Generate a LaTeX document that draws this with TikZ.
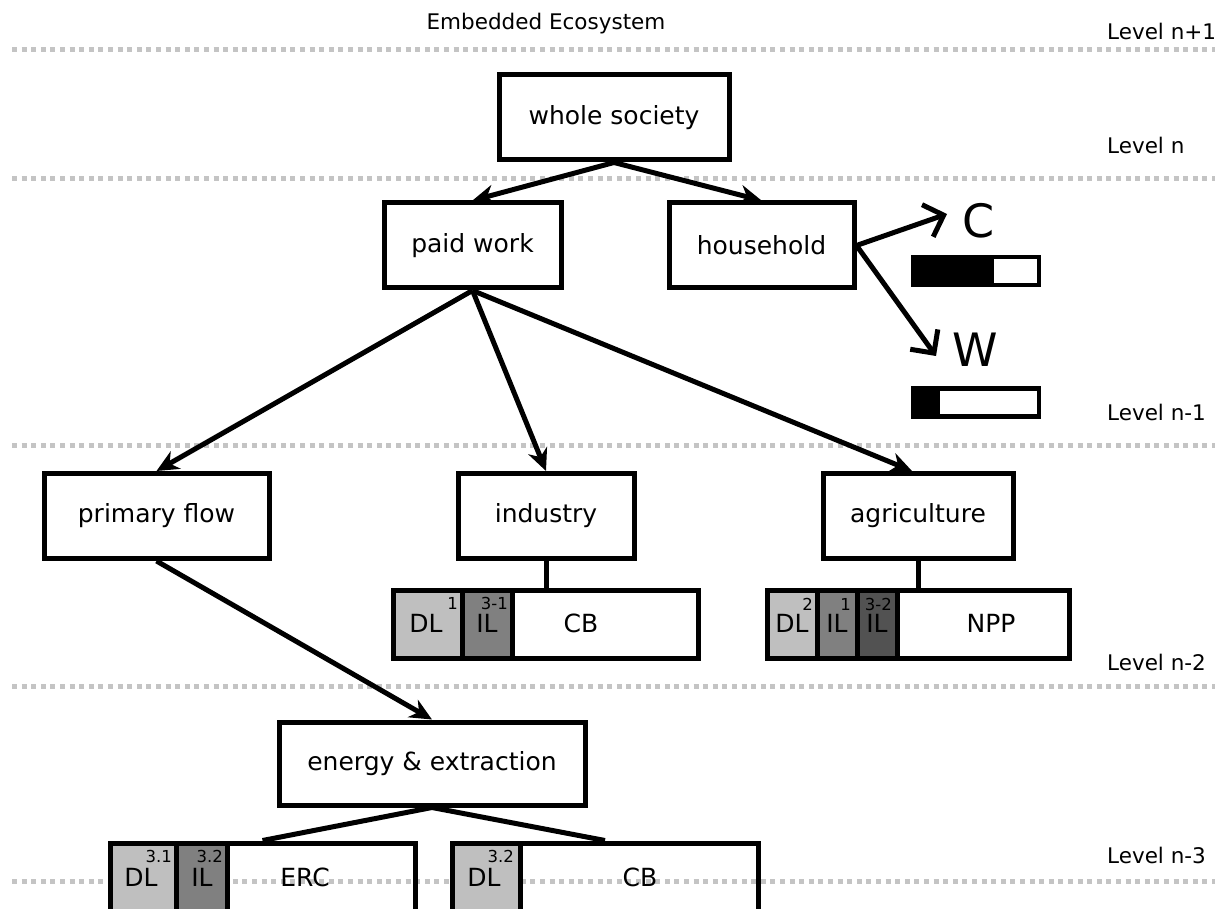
\documentclass[tikz,border=0pt]{standalone}
\usepackage{fontspec}
\setmainfont{DejaVu Sans}
\usetikzlibrary{arrows.meta}
\definecolor{dotgray}{HTML}{C4C4C4}
\definecolor{lightfill}{HTML}{BFBFBF}
\definecolor{midfill}{HTML}{808080}
\definecolor{darkfill}{HTML}{525252}

\begin{document}
\begin{tikzpicture}[x=1pt,y=-1pt,
  box/.style={draw,line width=5pt,inner sep=0pt,minimum height=85pt,font=\fontsize{25}{30}\selectfont},
  bar/.style={draw,line width=5pt,inner sep=0pt,minimum height=68pt,minimum width=305pt},
  cell/.style={line width=5pt,draw},
  gauge/.style={draw,line width=4.5pt,inner sep=0pt,minimum width=126pt,minimum height=28pt},
  lvl/.style={font=\fontsize{21.5}{26}\selectfont,anchor=west,inner sep=0pt},
  sep/.style={dotgray,line width=5pt,dash pattern=on 5pt off 4.6pt},
  arr/.style={line width=5pt,-{Stealth[length=22pt,width=20pt,inset=7pt]}},
  barb/.style={line width=5pt,-{Straight Barb[length=17pt,width=34pt]}},
  link/.style={line width=5pt},
  lbl/.style={font=\fontsize{25}{30}\selectfont,inner sep=0pt},
  sup/.style={font=\fontsize{16.5}{20}\selectfont,inner sep=0pt,anchor=north east},
  big/.style={font=\fontsize{46}{50}\selectfont,inner sep=0pt},
]
\useasboundingbox (0,0) rectangle (1223,909);
\clip (0,0) rectangle (1223,909);

% level separators
\foreach \y in {50,179,445,686,881} \draw[sep] (12,\y) -- (1215,\y);

% titles
\node[font=\fontsize{21.5}{26}\selectfont,inner sep=0pt] (eco) at (546,24) {Embedded Ecosystem};
\node[lvl] (l1) at (1107,31) {Level n+1};
\node[lvl] (l2) at (1107,145) {Level n};
\node[lvl] (l3) at (1107,412) {Level n-1};
\node[lvl] (l4) at (1107,662) {Level n-2};
\node[lvl] (l5) at (1107,855) {Level n-3};

% boxes
\node[box,minimum width=230pt] (ws) at (614,117.5) {whole society};
\node[box,minimum width=177pt] (pw) at (472.5,245.5) {paid work};
\node[box,minimum width=185pt] (hh) at (761.5,245.5) {household};
\node[box,minimum width=225pt] (pf) at (156.5,516) {primary flow};
\node[box,minimum width=176pt] (ind) at (546,516) {industry};
\node[box,minimum width=190pt] (agr) at (918,516) {agriculture};
\node[box,minimum width=306pt,minimum height=83pt] (ene) at (432,763.5) {energy \& extraction};

% industry bar
\filldraw[cell,fill=lightfill] (393.5,590) rectangle (462,658);
\filldraw[cell,fill=midfill] (462,590) rectangle (512,658);
\node[bar] (indbar) at (546,624) {};
\node[lbl] (indDL) at (426,623) {DL};
\node[lbl] (indIL) at (487,623) {IL};
\node[lbl] (indCB) at (581,623) {CB};
\node[sup] (indS1) at (458,597) {1};
\node[sup] (indS2) at (508,597) {3-1};

% agriculture bar
\filldraw[cell,fill=lightfill] (767,590) rectangle (817,658);
\filldraw[cell,fill=midfill] (817,590) rectangle (857,658);
\filldraw[cell,fill=darkfill] (857,590) rectangle (897,658);
\node[bar,minimum width=302pt] (agrbar) at (918,624) {};
\node[lbl] (agrDL) at (792,623) {DL};
\node[lbl] (agrIL1) at (837,623) {IL};
\node[lbl] (agrIL2) at (877,623) {IL};
\node[lbl] (agrNPP) at (991,623) {NPP};
\node[sup] (agrS1) at (813,598) {2};
\node[sup] (agrS2) at (851,598) {1};
\node[sup] (agrS3) at (892,598) {3-2};

% energy bars
\filldraw[cell,fill=lightfill] (110,843) rectangle (176,911);
\filldraw[cell,fill=midfill] (176,843) rectangle (227,911);
\node[bar] (ercbar) at (262.5,877) {};
\node[lbl] (ercDL) at (141,877.5) {DL};
\node[lbl] (ercIL) at (202,877.5) {IL};
\node[lbl] (ercERC) at (305,877.5) {ERC};
\node[sup] (ercS1) at (172,850) {3.1};
\node[sup] (ercS2) at (223,850) {3.2};

\filldraw[cell,fill=lightfill] (452,843) rectangle (520,911);
\node[bar,minimum width=306pt] (cbbar) at (605,877) {};
\node[lbl] (cbDL) at (484,877.5) {DL};
\node[lbl] (cbCB) at (640,877.5) {CB};
\node[sup] (cbS1) at (514,850) {3.2};

% connectors
\draw[arr] (ws.south) -- (pw.north);
\draw[arr] (ws.south) -- (hh.north);
\draw[arr] (pw.south) -- (pf.north);
\draw[arr] (pw.south) -- (ind.north);
\draw[arr] (pw.south) -- ([xshift=-6pt]agr.north);
\draw[arr] (pf.south) -- (ene.north);
\draw[link] (ind.south) -- (indbar.north);
\draw[link] (agr.south) -- (agrbar.north);
\draw[link] (ene.south) -- (ercbar.north);
\draw[link] (ene.south) -- (cbbar.north);

% consumption and work gauges
\coordinate (ctip) at (947,214);
\coordinate (wtip) at (936,356);
\draw[barb] (hh.east) -- (ctip);
\draw[barb] (hh.east) -- (wtip);
\node[big] (C) at (979,221) {C};
\node[big] (W) at (975,350) {W};
\fill (913,257) rectangle (994,285);
\node[gauge] (cbar) at (976,271) {};
\fill (913,389) rectangle (940,416);
\node[gauge] (wbar) at (976,402.5) {};
\end{tikzpicture}
\end{document}
